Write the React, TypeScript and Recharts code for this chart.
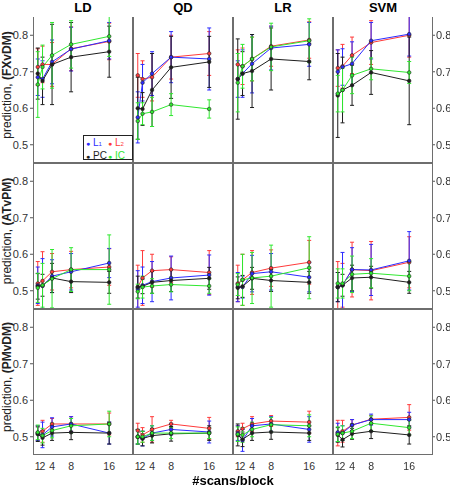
import { LineChart, Line, XAxis, YAxis, ErrorBar } from 'recharts'

const SCANS = [1, 2, 4, 8, 16]
const METHODS = ['LD', 'QD', 'LR', 'SVM']
const CONTRASTS = ['FXvDM', 'ATvPM', 'PMvDM']
const SERIES = ['L2', 'L1', 'PC', 'IC']
const Y_TICKS = [0.5, 0.6, 0.7, 0.8]

const COLORS: Record<string, string> = {
  L1: '#2b2bff',
  L2: '#ff3a3a',
  PC: '#1e1e1e',
  IC: '#2fe82f',
}

// means: row = contrast, col = classifier
const FXvDM_LD = { L1: [0.685, 0.68, 0.727, 0.762, 0.785], L2: [0.713, 0.72, 0.72, 0.763, 0.783], PC: [0.695, 0.675, 0.72, 0.74, 0.755], IC: [0.665, 0.713, 0.745, 0.775, 0.797] }
const FXvDM_QD = { L1: [0.575, 0.67, 0.695, 0.74, 0.735], L2: [0.69, 0.68, 0.685, 0.74, 0.75], PC: [0.6, 0.598, 0.65, 0.712, 0.727], IC: [0.565, 0.585, 0.59, 0.61, 0.598] }
const FXvDM_LR = { L1: [0.68, 0.695, 0.722, 0.765, 0.775], L2: [0.72, 0.715, 0.735, 0.77, 0.787], PC: [0.68, 0.695, 0.702, 0.735, 0.728], IC: [0.67, 0.715, 0.735, 0.768, 0.785] }
const FXvDM_SVM = { L1: [0.7, 0.713, 0.722, 0.785, 0.803], L2: [0.71, 0.715, 0.745, 0.78, 0.8], PC: [0.635, 0.65, 0.663, 0.698, 0.675], IC: [0.64, 0.65, 0.69, 0.708, 0.698] }

const ATvPM_LD = { L1: [0.515, 0.513, 0.54, 0.552, 0.576], L2: [0.52, 0.527, 0.552, 0.558, 0.565], PC: [0.512, 0.515, 0.535, 0.525, 0.523], IC: [0.508, 0.515, 0.533, 0.558, 0.558] }
const ATvPM_QD = { L1: [0.505, 0.515, 0.525, 0.535, 0.543], L2: [0.51, 0.535, 0.555, 0.558, 0.55], PC: [0.51, 0.512, 0.523, 0.528, 0.534], IC: [0.498, 0.51, 0.513, 0.517, 0.513] }
const ATvPM_LR = { L1: [0.51, 0.51, 0.547, 0.552, 0.537], L2: [0.52, 0.53, 0.55, 0.562, 0.578], PC: [0.508, 0.512, 0.534, 0.528, 0.523], IC: [0.517, 0.53, 0.535, 0.54, 0.563] }
const ATvPM_SVM = { L1: [0.51, 0.515, 0.558, 0.557, 0.582], L2: [0.51, 0.515, 0.558, 0.555, 0.578], PC: [0.51, 0.515, 0.535, 0.537, 0.523], IC: [0.52, 0.52, 0.545, 0.548, 0.54] }

const PMvDM_LD = { L1: [0.51, 0.505, 0.527, 0.535, 0.51], L2: [0.51, 0.515, 0.535, 0.535, 0.535], PC: [0.507, 0.497, 0.51, 0.512, 0.51], IC: [0.512, 0.503, 0.517, 0.53, 0.535] }
const PMvDM_QD = { L1: [0.5, 0.495, 0.51, 0.52, 0.513], L2: [0.517, 0.505, 0.52, 0.535, 0.523], PC: [0.5, 0.495, 0.503, 0.508, 0.51], IC: [0.5, 0.5, 0.51, 0.51, 0.51] }
const PMvDM_LR = { L1: [0.51, 0.49, 0.53, 0.535, 0.52], L2: [0.515, 0.522, 0.535, 0.543, 0.54], PC: [0.505, 0.493, 0.51, 0.513, 0.51], IC: [0.507, 0.505, 0.52, 0.533, 0.53] }
const PMvDM_SVM = { L1: [0.512, 0.51, 0.532, 0.547, 0.547], L2: [0.51, 0.515, 0.532, 0.548, 0.553], PC: [0.505, 0.492, 0.508, 0.515, 0.505], IC: [0.507, 0.51, 0.515, 0.537, 0.525] }

// half-widths of the error bars
const FXvDM_LD_ERR = { L1: [0.05, 0.05, 0.06, 0.06, 0.05], L2: [0.05, 0.05, 0.06, 0.06, 0.05], PC: [0.07, 0.065, 0.11, 0.095, 0.07], IC: [0.09, 0.06, 0.09, 0.065, 0.055] }
const FXvDM_QD_ERR = { L1: [0.07, 0.05, 0.06, 0.07, 0.085], L2: [0.06, 0.05, 0.065, 0.06, 0.06], PC: [0.085, 0.045, 0.1, 0.085, 0.07], IC: [0.05, 0.03, 0.04, 0.03, 0.025] }
const FXvDM_LR_ERR = { L1: [0.05, 0.065, 0.08, 0.06, 0.06], L2: [0.04, 0.05, 0.06, 0.055, 0.05], PC: [0.11, 0.06, 0.1, 0.085, 0.05], IC: [0.08, 0.06, 0.06, 0.065, 0.06] }
const FXvDM_SVM_ERR = { L1: [0.06, 0.05, 0.06, 0.05, 0.06], L2: [0.05, 0.06, 0.05, 0.06, 0.06], PC: [0.115, 0.09, 0.055, 0.06, 0.12], IC: [0.05, 0.06, 0.05, 0.03, 0.03] }

const ATvPM_LD_ERR = { L1: [0.05, 0.075, 0.045, 0.05, 0.04], L2: [0.06, 0.08, 0.05, 0.05, 0.05], PC: [0.035, 0.03, 0.04, 0.03, 0.03], IC: [0.04, 0.06, 0.08, 0.06, 0.095] }
const ATvPM_QD_ERR = { L1: [0.05, 0.05, 0.055, 0.06, 0.055], L2: [0.06, 0.075, 0.045, 0.035, 0.06], PC: [0.03, 0.02, 0.03, 0.03, 0.03], IC: [0.02, 0.03, 0.02, 0.02, 0.02] }
const ATvPM_LR_ERR = { L1: [0.04, 0.03, 0.05, 0.05, 0.04], L2: [0.05, 0.07, 0.06, 0.05, 0.06], PC: [0.03, 0.03, 0.03, 0.03, 0.03], IC: [0.03, 0.07, 0.07, 0.085, 0.085] }
const ATvPM_SVM_ERR = { L1: [0.04, 0.09, 0.06, 0.07, 0.08], L2: [0.07, 0.06, 0.075, 0.08, 0.07], PC: [0.04, 0.03, 0.035, 0.03, 0.03], IC: [0.04, 0.04, 0.05, 0.04, 0.04] }

const PMvDM_LD_ERR = { L1: [0.02, 0.035, 0.025, 0.02, 0.03], L2: [0.02, 0.03, 0.015, 0.02, 0.03], PC: [0.02, 0.02, 0.02, 0.02, 0.03], IC: [0.02, 0.02, 0.02, 0.02, 0.035] }
const PMvDM_QD_ERR = { L1: [0.02, 0.02, 0.02, 0.015, 0.03], L2: [0.02, 0.02, 0.035, 0.01, 0.03], PC: [0.02, 0.02, 0.02, 0.02, 0.02], IC: [0.02, 0.015, 0.02, 0.015, 0.015] }
const PMvDM_LR_ERR = { L1: [0.02, 0.03, 0.02, 0.02, 0.035], L2: [0.015, 0.015, 0.02, 0.015, 0.03], PC: [0.03, 0.02, 0.02, 0.02, 0.02], IC: [0.02, 0.02, 0.02, 0.02, 0.03] }
const PMvDM_SVM_ERR = { L1: [0.025, 0.02, 0.015, 0.015, 0.02], L2: [0.035, 0.03, 0.015, 0.01, 0.035], PC: [0.02, 0.02, 0.015, 0.02, 0.025], IC: [0.02, 0.02, 0.02, 0.02, 0.02] }

type SeriesSet = Record<string, number[]>

const MEANS: SeriesSet[][] = [
  [FXvDM_LD, FXvDM_QD, FXvDM_LR, FXvDM_SVM],
  [ATvPM_LD, ATvPM_QD, ATvPM_LR, ATvPM_SVM],
  [PMvDM_LD, PMvDM_QD, PMvDM_LR, PMvDM_SVM],
]
const ERRS: SeriesSet[][] = [
  [FXvDM_LD_ERR, FXvDM_QD_ERR, FXvDM_LR_ERR, FXvDM_SVM_ERR],
  [ATvPM_LD_ERR, ATvPM_QD_ERR, ATvPM_LR_ERR, ATvPM_SVM_ERR],
  [PMvDM_LD_ERR, PMvDM_QD_ERR, PMvDM_LR_ERR, PMvDM_SVM_ERR],
]

const COL_X = [33, 133, 233, 333]
const ROW_Y = [17, 163, 309]
const PANEL_W = 100
const PANEL_H = 146
const FONT = 'Arial, "Liberation Sans", sans-serif'

function buildRows(means: SeriesSet, errs: SeriesSet) {
  return SCANS.map((x, i) => {
    const row: Record<string, number> = { x }
    SERIES.forEach((s) => {
      row[s] = means[s][i]
      row[`${s}e`] = errs[s][i]
    })
    return row
  })
}

function Panel({ row, col }: { row: number; col: number }) {
  const data = buildRows(MEANS[row][col], ERRS[row][col])
  const leftPad = col === 0 ? 33 : 0
  const rightPad = col === 3 ? 18 : 0
  const bottomPad = row === 2 ? 20 : 0
  const tickStyle = { fill: '#333', fontSize: 11, fontFamily: FONT }

  return (
    <div style={{ position: 'absolute', left: COL_X[col] - leftPad, top: ROW_Y[row] }}>
      <LineChart
        width={PANEL_W + leftPad + rightPad}
        height={PANEL_H + bottomPad}
        data={data}
        margin={{ top: 0, right: 0, bottom: 0, left: 0 }}
      >
        <XAxis
          dataKey="x"
          type="number"
          domain={[0, 21]}
          ticks={SCANS}
          interval={0}
          hide={row !== 2}
          height={20}
          tickLine={false}
          axisLine={false}
          tick={{ ...tickStyle, fontSize: 10.5 }}
          tickMargin={2}
        />
        {col === 0 ? (
          <YAxis
            domain={[0.45, 0.85]}
            ticks={Y_TICKS}
            width={33}
            axisLine={false}
            tickSize={3}
            tickLine={{ stroke: '#555' }}
            tick={tickStyle}
            tickFormatter={(v: number) => v.toFixed(1)}
            allowDataOverflow
          />
        ) : col === 3 ? (
          <YAxis
            orientation="right"
            domain={[0.45, 0.85]}
            ticks={Y_TICKS}
            width={18}
            axisLine={false}
            tickSize={2}
            tickMargin={1}
            tickLine={{ stroke: '#555' }}
            tick={tickStyle}
            tickFormatter={(v: number) => v.toFixed(1)}
            allowDataOverflow
          />
        ) : (
          <YAxis
            domain={[0.45, 0.85]}
            ticks={Y_TICKS}
            width={0}
            mirror
            axisLine={false}
            tickSize={3}
            tickLine={{ stroke: '#555' }}
            tickFormatter={() => ''}
            allowDataOverflow
          />
        )}
        {SERIES.map((s) => (
          <Line
            key={s}
            dataKey={s}
            stroke={COLORS[s]}
            strokeWidth={1}
            dot={{ r: 1.8, fill: COLORS[s], stroke: '#222', strokeWidth: 0.6 }}
            isAnimationActive={false}
          >
            <ErrorBar dataKey={`${s}e`} width={2} stroke={COLORS[s]} strokeWidth={1} direction="y" />
          </Line>
        ))}
      </LineChart>
      <div
        style={{
          position: 'absolute',
          left: leftPad,
          top: 0,
          width: PANEL_W,
          height: PANEL_H,
          boxSizing: 'border-box',
          border: '1px solid #6e6e6e',
          borderTop: row === 0 ? 'none' : '1px solid #6e6e6e',
          pointerEvents: 'none',
        }}
      />
    </div>
  )
}

function LegendBox() {
  const item = (s: string, label: React.ReactNode) => (
    <span style={{ display: 'inline-block', width: 22, color: COLORS[s], whiteSpace: 'nowrap' }}>
      <span style={{ fontSize: 7, verticalAlign: 'middle' }}>●</span> {label}
    </span>
  )
  return (
    <div
      style={{
        position: 'absolute',
        left: 83,
        top: 135,
        width: 50,
        height: 25,
        boxSizing: 'border-box',
        border: '1px solid #222',
        background: '#fff',
        fontFamily: FONT,
        fontSize: 10,
        lineHeight: '11px',
        padding: '1px 0 0 2px',
        whiteSpace: 'nowrap',
        overflow: 'hidden',
      }}
    >
      <div>
        {item('L1', <>L<span style={{ fontSize: 6 }}>1</span></>)}
        {item('L2', <>L<span style={{ fontSize: 6 }}>2</span></>)}
      </div>
      <div>
        {item('PC', 'PC')}
        {item('IC', 'IC')}
      </div>
    </div>
  )
}

export default function App() {
  return (
    <div style={{ position: 'fixed', left: 0, top: 0, width: 450, height: 488, background: '#fff', fontFamily: FONT }}>
      {METHODS.map((m, c) => (
        <div
          key={m}
          style={{ position: 'absolute', left: COL_X[c], top: 0, width: PANEL_W, textAlign: 'center', fontWeight: 'bold', fontSize: 13 }}
        >
          {m}
        </div>
      ))}
      {CONTRASTS.map((name, r) => (
        <div
          key={name}
          style={{
            position: 'absolute',
            left: 7,
            top: ROW_Y[r] + PANEL_H / 2 - 5,
            width: 0,
            height: 0,
          }}
        >
          <div
            style={{
              position: 'absolute',
              transform: 'translate(-50%, -50%) rotate(-90deg)',
              whiteSpace: 'nowrap',
              fontSize: 12,
              color: '#222',
            }}
          >
            prediction, <b>({name})</b>
          </div>
        </div>
      ))}
      {CONTRASTS.map((_, r) => METHODS.map((m, c) => <Panel key={`${r}-${m}`} row={r} col={c} />))}
      <LegendBox />
      <div style={{ position: 'absolute', left: 0, width: 466, top: 473, textAlign: 'center', fontWeight: 'bold', fontSize: 13 }}>
        #scans/block
      </div>
    </div>
  )
}
